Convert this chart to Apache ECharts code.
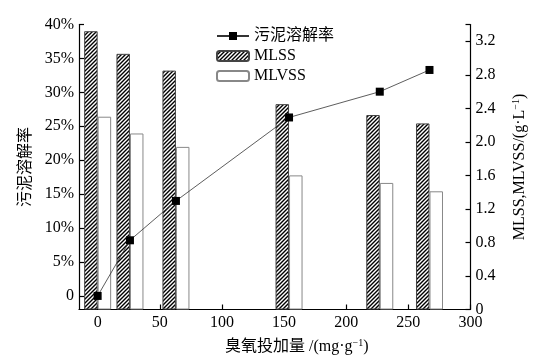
<!DOCTYPE html>
<html><head><meta charset="utf-8">
<script src="https://cdn.jsdelivr.net/npm/echarts@6/dist/echarts.min.js"></script>
<style>html,body{margin:0;padding:0;background:#fff}#c{width:536px;height:364px}</style>
</head><body><div id="c"></div>
<script>
const doses = [0, 26, 63, 154, 227, 267];
const solubilization = [0.0, 8.2, 14.0, 26.3, 30.1, 33.3];
const mlss = [3.32, 3.05, 2.85, 2.45, 2.32, 2.22];
const mlvss = [2.30, 2.10, 1.94, 1.60, 1.51, 1.41];
const xTicks = [0, 50, 100, 150, 200, 250, 300];
const leftTicks = [0, 5, 10, 15, 20, 25, 30, 35, 40];
const rightTicks = [0, 0.4, 0.8, 1.2, 1.6, 2.0, 2.4, 2.8, 3.2];
const seriesNames = ['污泥溶解率', 'MLSS', 'MLVSS'];

const FONT = "'Liberation Serif','Times New Roman','Noto Sans CJK SC',serif";

function hatch() {
  const s = 4;
  const c = document.createElement('canvas');
  c.width = s; c.height = s;
  const g = c.getContext('2d');
  g.fillStyle = '#fff'; g.fillRect(0, 0, s, s);
  g.strokeStyle = '#000'; g.lineWidth = 1.4;
  g.beginPath();
  g.moveTo(0, s); g.lineTo(s, 0);
  g.moveTo(-1, 1); g.lineTo(1, -1);
  g.moveTo(s - 1, s + 1); g.lineTo(s + 1, s - 1);
  g.stroke();
  return c;
}

const chart = echarts.init(document.getElementById('c'), null, {renderer: 'canvas'});
const axisLine = {show: true, onZero: false, lineStyle: {color: '#000', width: 1.2}};
const axisTickBase = {show: true, inside: true, length: 5, lineStyle: {color: '#000', width: 1.2}};
const labelBase = {fontFamily: FONT, fontSize: 16, color: '#000'};
const supRich = {sup: {fontFamily: FONT, fontSize: 10, color: '#000', padding: [0, 0, 7, 0]}};

chart.setOption({
  animation: false,
  backgroundColor: '#fff',
  textStyle: {fontFamily: FONT},
  grid: {left: 79, right: 65, top: 24.5, bottom: 54.5, containLabel: false},
  legend: {
    orient: 'vertical', left: 211, top: 23,
    itemWidth: 32, itemHeight: 10, itemGap: 4,
    data: seriesNames,
    textStyle: {fontFamily: FONT, fontSize: 16, color: '#000'}
  },
  xAxis: {
    type: 'value', min: -15, max: 300,
    axisLine: axisLine,
    axisTick: Object.assign({}, axisTickBase, {customValues: xTicks}),
    axisLabel: Object.assign({}, labelBase, {customValues: xTicks, margin: 5}),
    splitLine: {show: false},
    name: '臭氧投加量 /(mg·g{sup|−1})',
    nameLocation: 'middle', nameGap: 29,
    nameTextStyle: {fontFamily: FONT, fontSize: 16, color: '#000', padding: [0, 0, 0, 44], rich: supRich}
  },
  yAxis: [{
    type: 'value', min: -2, max: 40, position: 'left',
    axisLine: axisLine,
    axisTick: Object.assign({}, axisTickBase, {customValues: leftTicks}),
    axisLabel: Object.assign({}, labelBase, {customValues: leftTicks, margin: 5,
      formatter: v => v === 0 ? '0' : v + '%'}),
    splitLine: {show: false},
    name: '污泥溶解率', nameLocation: 'middle', nameGap: 39, nameRotate: 90,
    nameTextStyle: {fontFamily: FONT, fontSize: 16, color: '#000'}
  }, {
    type: 'value', min: 0, max: 3.4, position: 'right',
    axisLine: axisLine,
    axisTick: Object.assign({}, axisTickBase, {customValues: rightTicks.concat([3.4])}),
    axisLabel: Object.assign({}, labelBase, {customValues: rightTicks, margin: 5,
      formatter: v => v === 0 ? '0' : v.toFixed(1)}),
    splitLine: {show: false},
    name: 'MLSS,MLVSS/(g·L{sup|−1})', nameLocation: 'middle', nameGap: 41, nameRotate: 90,
    nameTextStyle: {fontFamily: FONT, fontSize: 16, color: '#000', rich: supRich}
  }],
  series: [{
    name: seriesNames[1], type: 'bar', yAxisIndex: 1,
    barWidth: 13.5, barGap: '0%',
    itemStyle: {color: {image: hatch(), repeat: 'repeat'}, borderColor: '#444', borderWidth: 1},
    data: doses.map((d, i) => [d, mlss[i]])
  }, {
    name: seriesNames[2], type: 'bar', yAxisIndex: 1,
    barWidth: 13.5, barGap: '0%',
    itemStyle: {color: '#fff', borderColor: '#888', borderWidth: 1},
    data: doses.map((d, i) => [d, mlvss[i]])
  }, {
    name: seriesNames[0], type: 'line', yAxisIndex: 0, z: 5,
    symbol: 'rect', symbolSize: 8,
    lineStyle: {color: '#333', width: 0.8},
    itemStyle: {color: '#000'},
    data: doses.map((d, i) => [d, solubilization[i]])
  }]
});
</script></body></html>
